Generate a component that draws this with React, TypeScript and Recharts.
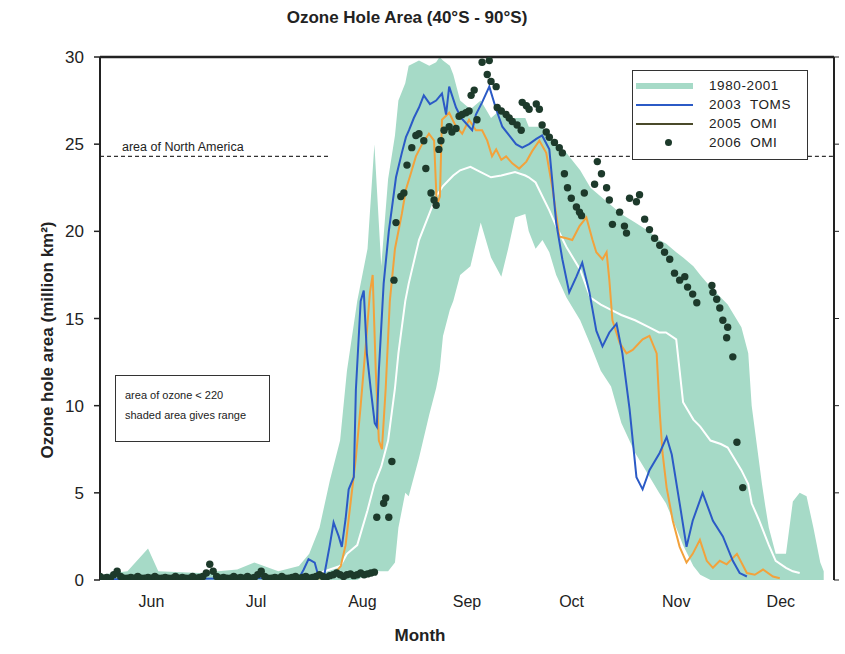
import React from 'react';
import { ComposedChart, Area, Line, Scatter, XAxis, YAxis, ReferenceLine } from 'recharts';

const FONT = 'Arial, "Liberation Sans", Helvetica, sans-serif';

// x = days since 1 June
const monthStarts = [0, 30, 61, 92, 122, 153, 183, 214];
const monthMids = [15, 45.5, 76.5, 107, 137.5, 168, 198.5];
const monthNames = ['Jun', 'Jul', 'Aug', 'Sep', 'Oct', 'Nov', 'Dec'];
const yTicks = [0, 5, 10, 15, 20, 25, 30];
const northAmericaArea = 24.3;
// visible stretches of the dashed "North America" line (it passes behind the shaded range)
const naVisibleStretches = [[0, 67], [137, 214]];
const yMax = 30;

// 1980-2001 range (shaded)
const bandDays = [0, 8, 14, 17, 29, 40, 45, 52, 58, 61, 64, 67, 70, 72, 75, 78, 80, 82, 84, 86, 87, 89, 90, 93, 96, 98, 99, 100, 102, 103, 105, 108, 111, 114, 117, 119, 121, 124, 125, 127, 129, 131, 133, 136, 140, 143, 146, 149, 152, 156, 160, 163, 165, 168, 170, 173, 175, 178, 181, 183, 187, 189, 190, 192, 193, 194, 195, 197, 200, 202, 204, 206, 208, 210, 211];
const bandLow = [0, 0, 0, 0, 0, 0, 0, 0, 0, 0, 0, 0, 0, 0, 0, 0.3, 0.5, 0.5, 0.5, 1, 3, 5, 4.8, 7, 9.5, 11, 12, 14, 15.5, 16, 17.5, 18, 20.5, 18.5, 17.4, 19, 20.8, 21, 20, 19, 19.5, 18.8, 17.5, 16.2, 14.9, 13.5, 12, 11.1, 9, 7.3, 6, 5, 4.4, 3, 2, 0.8, 0.3, 0, 0, 0, 0, 0, 0, 0, 0, 0, 0, 0, 0, 0, 0, 0, 0, 0, 0];
const bandHigh = [0.3, 0.5, 1.8, 0.5, 0.4, 0.6, 1.0, 0.5, 0.8, 1.5, 3, 5.7, 8, 12, 16, 19, 25, 18, 23, 25.5, 27.5, 28.5, 29.5, 29.8, 29.5, 29.7, 30, 29.8, 29.5, 29, 27.5, 27, 27.5, 26.5, 27, 26.5, 26.5, 26.5, 26, 26, 26, 25.5, 25, 24.5, 23.5, 22.5, 22, 21.5, 21, 20.5, 20, 19.5, 19.3, 18.8, 18.5, 18, 17.5, 16.8, 16.2, 15.8, 14.5, 13, 10, 7, 5.5, 4.2, 3, 1.5, 1.5, 4.5, 5, 4.8, 3, 1, 0.5];

// 1980-2001 mean (white line)
const meanDays = [64, 67, 70, 72, 75, 78, 80, 82, 84, 86, 87, 89, 90, 93, 96, 98, 99, 100, 102, 103, 105, 108, 111, 114, 117, 119, 121, 124, 125, 127, 129, 131, 133, 136, 140, 143, 146, 149, 152, 156, 160, 163, 165, 168, 170, 173, 175, 178, 181, 183, 187, 189, 190, 192, 193, 194, 195, 197, 200, 202, 204];
const meanVals = [0.4, 0.6, 0.8, 1.5, 2, 4, 5.5, 6.5, 8, 11, 13, 16, 17, 19.5, 21, 22, 22.3, 22.6, 23, 23.2, 23.5, 23.7, 23.4, 23.1, 23.2, 23.3, 23.4, 23.2, 23.1, 22.8, 22, 21.2, 20.3, 19.1, 17.8, 16.2, 15.8, 15.5, 15.2, 14.9, 14.5, 14.2, 14.2, 13.8, 10.2, 9.2, 8.8, 8, 7.8, 7.6, 6.3, 5.5, 4.4, 3.5, 3, 2.5, 2, 1.1, 0.7, 0.5, 0.4];

// 2003 TOMS
const tomsDays = [0, 20, 40, 56, 58, 59.4, 60.8, 62.6, 63.7, 65.5, 67, 68.1, 69.6, 70.5, 71.6, 72.5, 74, 74.6, 76, 76.9, 77.8, 78.9, 80.1, 80.7, 81.3, 82.7, 84.2, 86.3, 88, 89.2, 90.1, 91.5, 93, 94.4, 96.2, 98, 99.7, 100.9, 101.8, 103.8, 105.3, 106.7, 108.5, 109.6, 111.4, 113.5, 115.5, 117.3, 119.3, 121.3, 123.1, 125.1, 127.2, 128.9, 131, 133, 134.8, 136.8, 138.9, 140.6, 142.7, 144.7, 146.5, 148.5, 150.6, 152.3, 154.4, 156.4, 158.2, 160.2, 163.2, 165.2, 166.7, 169, 171, 172.8, 175.7, 178.7, 181.6, 184.5, 186.5, 188.6];
const tomsVals = [0.05, 0.05, 0.1, 0.1, 0.1, 0.6, 1.2, 1.0, 0.2, 0.4, 2.0, 3.3, 2.5, 1.9, 3.5, 5.2, 5.9, 10.9, 16.0, 16.6, 13, 11, 9, 8.8, 12, 17, 20, 23.1, 24.5, 25.4, 25.8, 26.5, 27.1, 27.8, 27.3, 27.5, 27.9, 26.7, 28.3, 27.1, 26.5, 26.2, 25.8, 26.7, 27.4, 28.3, 27, 26, 25.5, 25, 24.8, 25, 25.3, 25.5, 24.7, 20.5, 18.4, 16.5, 17.4, 18.2, 16.5, 14.3, 13.4, 14.2, 14.7, 13, 9.8, 5.9, 5.2, 6.3, 7.3, 8.2, 7.2, 4.4, 1.9, 3.4, 5.0, 3.4, 2.5, 1.1, 0.4, 0.2];

// 2005 OMI
const omi05Days = [60, 65.2, 68.1, 70.2, 71.6, 73.1, 74.6, 76, 77.5, 78.7, 79.5, 80.4, 81.3, 82.2, 83.3, 84.5, 86, 88, 89.2, 90.6, 92.1, 93.9, 95.9, 97.4, 98.2, 99.1, 99.7, 101.8, 103.8, 105.6, 107.6, 109.6, 111.4, 112.9, 114.3, 115.5, 117, 118.4, 120.2, 122.2, 124.3, 126, 128.1, 130.1, 131.9, 133.9, 136, 137.7, 139.8, 141.8, 143.6, 144.7, 146.5, 147.7, 148.5, 149.4, 151.5, 153.5, 155.3, 158.2, 160.2, 162.3, 163.2, 164, 165.2, 167, 169, 171, 172.8, 174.9, 176.9, 178.7, 180.7, 182.7, 185.7, 188.6, 190.9, 193.3, 196.2, 198.2];
const omi05Vals = [0.1, 0.1, 0.3, 0.8, 2, 4.5, 7, 10, 13.5, 16.5, 17.5, 12, 8, 7.5, 11, 16, 19, 21, 22.4, 23.3, 24.3, 25, 25.6, 25.2, 21.5, 22, 26.4, 26.8, 26, 25.6, 26.4, 25.8, 25.8, 25.2, 24.3, 24.7, 24.1, 24.3, 23.9, 23.6, 24, 24.6, 25.2, 24.5, 22.5, 19.7, 19.6, 19.5, 20.3, 20.8, 19.5, 18.8, 18.4, 18.8, 17.2, 14.9, 13.6, 13, 13.2, 13.8, 14, 13, 9.6, 7.3, 5.3, 3.4, 1.9, 1.0, 1.5, 2.3, 1.1, 0.7, 1.1, 0.9, 1.5, 0.4, 0.3, 0.6, 0.2, 0.1];

// 2006 OMI (dots)
const omi06Days = [0, 1, 2, 3, 4, 5, 6, 7, 8, 9, 10, 11, 12, 13, 14, 15, 16, 17, 18, 19, 20, 21, 22, 23, 24, 25, 26, 27, 28, 29, 30, 31, 32, 33, 34, 35, 36, 37, 38, 39, 40, 41, 42, 43, 44, 45, 46, 47, 48, 49, 50, 51, 52, 53, 54, 55, 56, 57, 58, 59, 60, 61, 62, 63, 64, 65, 66, 67, 68, 69, 70, 71, 72, 73, 74, 75, 76, 77, 78, 79, 80,
  80.7, 82.7, 83.3, 84.2, 85.1, 85.7, 86.3, 87.7, 88.6, 89.5, 90.9, 92.1, 93, 94.4, 95, 96.5, 97.4, 98, 98.8, 99.4, 100.3, 101.8, 102.6, 103.8, 104.7, 105.6, 106.7, 107.6, 108.2, 109.1, 109.9, 111.4, 112.9, 113.5, 114, 115.5, 115.8, 117, 118.4, 119.3, 120.2, 121.6, 122.8, 123.1, 124.3, 125.1, 127.2, 128.1, 128.9, 130.1, 131, 132.5, 133.9, 134.8, 135.4, 136.3, 137.4, 138.9, 139.8, 140.4, 141.2, 144.2, 145, 146.2, 147.7, 148.5, 149.4, 151.5, 152.9, 153.5, 154.4, 156.4, 157.3, 158.8, 160.2, 161.7, 163.2, 164.6, 166.1, 167.5, 169, 170.5, 171.3, 172.8, 174, 178.4, 178.7, 179.8, 180.7, 181.6, 182.7, 183, 184.5, 185.7, 187.4];
const omi06Vals = [0.2, 0.1, 0.15, 0.1, 0.3, 0.5, 0.2, 0.1, 0.1, 0.15, 0.1, 0.2, 0.1, 0.1, 0.15, 0.1, 0.2, 0.1, 0.1, 0.15, 0.1, 0.1, 0.2, 0.1, 0.15, 0.1, 0.1, 0.2, 0.1, 0.15, 0.2, 0.4, 0.9, 0.5, 0.2, 0.1, 0.15, 0.1, 0.1, 0.2, 0.1, 0.15, 0.1, 0.2, 0.1, 0.15, 0.3, 0.5, 0.2, 0.1, 0.1, 0.15, 0.1, 0.2, 0.1, 0.1, 0.15, 0.2, 0.1, 0.15, 0.2, 0.1, 0.15, 0.2, 0.3, 0.2, 0.15, 0.25, 0.3, 0.4, 0.3, 0.2, 0.3, 0.35, 0.25, 0.3, 0.4, 0.3, 0.35, 0.4, 0.45,
  3.6, 4.4, 4.7, 3.6, 6.8, 17.2, 20.5, 22.0, 22.2, 23.8, 24.8, 25.5, 25.6, 25.2, 23.6, 22.2, 21.8, 21.5, 24.7, 25.2, 25.8, 26.0, 25.7, 25.9, 26.6, 26.7, 26.8, 26.9, 27.8, 28.1, 26.4, 29.7, 29.0, 29.8, 28.6, 28.3, 27.1, 26.9, 26.7, 26.5, 26.3, 26.1, 25.8, 27.4, 27.2, 27.0, 27.3, 27.0, 26.1, 25.7, 25.4, 25.1, 24.8, 24.5, 23.3, 22.5, 21.9, 21.4, 21.1, 20.9, 22.2, 22.7, 24.0, 23.3, 22.5, 21.8, 20.4, 21.1, 20.3, 19.9, 21.9, 21.7, 22.1, 20.7, 20.1, 19.6, 19.2, 18.8, 18.4, 17.6, 17.2, 17.4, 16.8, 16.4, 15.9, 16.9, 16.5, 16.1, 15.6, 14.9, 13.9, 14.5, 12.8, 7.9, 5.3];

const bandData = bandDays.map((d, i) => ({ day: d, range: [bandLow[i], bandHigh[i]] }));
const meanData = meanDays.map((d, i) => ({ day: d, v: meanVals[i] }));
const tomsData = tomsDays.map((d, i) => ({ day: d, v: tomsVals[i] }));
const omi05Data = omi05Days.map((d, i) => ({ day: d, v: omi05Vals[i] }));
const omi06Data = omi06Days.map((d, i) => ({ day: d, v: omi06Vals[i] }));

const BAND = '#a6dac7';
const BLUE = '#2b5ac6';
const ORANGE = '#f2a23c';
const DOT = '#1d3a2b';
const AXIS = '#222';

const NALabel = (props: any) => {
  const vb = props.viewBox || { x: 0, y: 0 };
  return (
    <text x={vb.x + 22} y={vb.y - 5} fontSize={12.5} fill="#222" fontFamily={FONT}>
      area of North America
    </text>
  );
};

const Dot = (p: any) => <circle cx={p.cx} cy={p.cy} r={3.7} fill={DOT} />;

const legendRows = [
  { label: '1980-2001', kind: 'band' },
  { label: '2003  TOMS', kind: 'blue' },
  { label: '2005  OMI', kind: 'line' },
  { label: '2006  OMI', kind: 'dot' },
];

export default function App() {
  return (
    <div style={{ position: 'absolute', left: 0, top: 0, width: 845, height: 654, background: '#fff', fontFamily: FONT }}>
      <ComposedChart width={845} height={654} margin={{ top: 57, right: 0, bottom: 0, left: 0 }} style={{ fontFamily: FONT }}>
        <XAxis xAxisId="m" dataKey="day" type="number" domain={[0, 214]} allowDataOverflow ticks={monthStarts}
          tickFormatter={() => ''} height={0} tickSize={8}
          axisLine={{ stroke: AXIS, strokeWidth: 2 }} tickLine={{ stroke: AXIS, strokeWidth: 1.5 }} />
        <XAxis xAxisId="lbl" dataKey="day" type="number" domain={[0, 214]} allowDataOverflow ticks={monthMids}
          tickFormatter={(v: number) => monthNames[monthMids.indexOf(v)] ?? ''} height={74}
          axisLine={false} tickLine={false} tickMargin={10} tick={{ fontSize: 16, fill: '#222' }} />
        <YAxis yAxisId="l" type="number" domain={[0, 30]} allowDataOverflow ticks={yTicks} width={100}
          tickSize={6} tickMargin={10} tick={{ fontSize: 17, fill: '#222' }}
          axisLine={{ stroke: AXIS, strokeWidth: 2 }} tickLine={{ stroke: AXIS, strokeWidth: 1.5 }} />
        <YAxis yAxisId="r" orientation="right" type="number" domain={[0, 30]} allowDataOverflow ticks={yTicks} width={11}
          tickSize={5} tickFormatter={() => ''}
          axisLine={{ stroke: AXIS, strokeWidth: 2 }} tickLine={{ stroke: AXIS, strokeWidth: 1 }} />

        <Area xAxisId="m" yAxisId="l" data={bandData} dataKey="range" type="linear" fill={BAND} fillOpacity={1}
          stroke="none" isAnimationActive={false} />
        <Line xAxisId="m" yAxisId="l" data={meanData} dataKey="v" type="linear" stroke="#ffffff" strokeWidth={2}
          dot={false} isAnimationActive={false} />
        <Line xAxisId="m" yAxisId="l" data={omi05Data} dataKey="v" type="linear" stroke={ORANGE} strokeWidth={2}
          dot={false} isAnimationActive={false} />
        <Line xAxisId="m" yAxisId="l" data={tomsData} dataKey="v" type="linear" stroke={BLUE} strokeWidth={2}
          dot={false} isAnimationActive={false} />
        <Scatter xAxisId="m" yAxisId="l" data={omi06Data} dataKey="v" shape={<Dot />} isAnimationActive={false} />

        {naVisibleStretches.map(([a, b], i) => (
          <ReferenceLine key={'na' + i} xAxisId="m" yAxisId="l"
            segment={[{ x: a, y: northAmericaArea }, { x: b, y: northAmericaArea }]}
            stroke="#333" strokeWidth={1.4} strokeDasharray="4 3"
            label={i === 0 ? <NALabel /> : undefined} />
        ))}

        <ReferenceLine xAxisId="m" yAxisId="l" y={yMax} stroke={AXIS} strokeWidth={2.5} />
      </ComposedChart>

      <div style={{ position: 'absolute', left: 0, top: 8, width: 814, textAlign: 'center', fontSize: 17, fontWeight: 'bold', color: '#222', lineHeight: '20px' }}>
        Ozone Hole Area (40°S - 90°S)
      </div>
      <div style={{ position: 'absolute', left: 48 - 200, top: 340 - 10, width: 400, height: 20, lineHeight: '20px', textAlign: 'center', transform: 'rotate(-90deg)', fontSize: 17, fontWeight: 'bold', color: '#222' }}>
        Ozone hole area (million km²)
      </div>
      <div style={{ position: 'absolute', left: 370, top: 626, width: 100, lineHeight: '20px', textAlign: 'center', fontSize: 17, fontWeight: 'bold', color: '#222' }}>
        Month
      </div>

      <div style={{ position: 'absolute', left: 632, top: 70, width: 176, height: 90, boxSizing: 'border-box', border: '1.5px solid #333', background: '#fff' }}>
        {legendRows.map((r, i) => (
          <div key={r.label} style={{ position: 'absolute', left: 0, top: 6 + i * 19, width: 172, height: 18 }}>
            {r.kind === 'band' && <div style={{ position: 'absolute', left: 3, top: 6, width: 57, height: 6, background: BAND }} />}
            {r.kind === 'blue' && <div style={{ position: 'absolute', left: 3, top: 8, width: 57, height: 2, background: BLUE }} />}
            {r.kind === 'line' && <div style={{ position: 'absolute', left: 3, top: 8, width: 57, height: 1.5, background: '#4a4a2a' }} />}
            {r.kind === 'dot' && <div style={{ position: 'absolute', left: 32, top: 5, width: 7, height: 7, borderRadius: '50%', background: DOT }} />}
            <div style={{ position: 'absolute', left: 76, top: 0, lineHeight: '18px', fontSize: 13.5, color: '#222', whiteSpace: 'pre', letterSpacing: 0.6 }}>{r.label}</div>
          </div>
        ))}
      </div>

      <div style={{ position: 'absolute', left: 115, top: 375, width: 155, height: 67, boxSizing: 'border-box', border: '1.5px solid #333', background: '#fff' }}>
        <div style={{ position: 'absolute', left: 9, top: 11, fontSize: 11, lineHeight: '16px', color: '#222', whiteSpace: 'nowrap' }}>area of ozone &lt; 220</div>
        <div style={{ position: 'absolute', left: 9, top: 31, fontSize: 11, lineHeight: '16px', color: '#222', whiteSpace: 'nowrap' }}>shaded area gives range</div>
      </div>
    </div>
  );
}
